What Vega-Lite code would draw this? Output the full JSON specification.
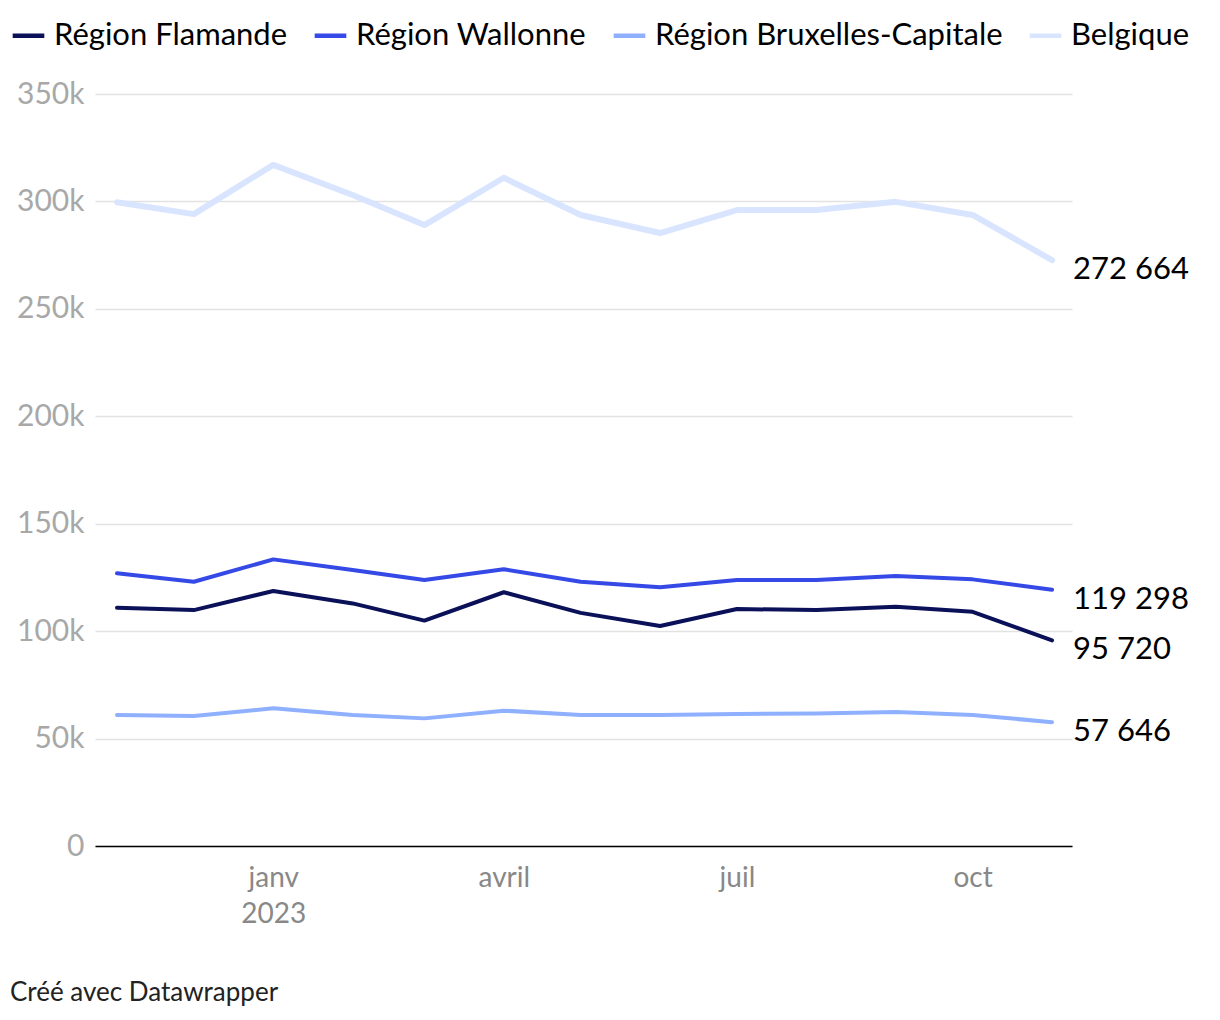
{
  "$schema": "https://vega.github.io/schema/vega-lite/v6.json",
  "width": 977,
  "height": 752,
  "padding": {"left": 10, "top": 17, "right": 10, "bottom": 10},
  "background": "#ffffff",
  "title": {"text": "Créé avec Datawrapper", "orient": "bottom", "anchor": "start", "frame": "bounds", "fontSize": 26, "fontWeight": "normal", "color": "#222222", "offset": 52},
  "data": {
    "format": {"parse": {"date": "utc:'%Y-%m-%d'"}},
    "values": [
      {"date": "2022-11-01", "region": "Région Flamande", "value": 110900},
      {"date": "2022-12-01", "region": "Région Flamande", "value": 109800},
      {"date": "2023-01-01", "region": "Région Flamande", "value": 118700},
      {"date": "2023-02-01", "region": "Région Flamande", "value": 112900},
      {"date": "2023-03-01", "region": "Région Flamande", "value": 104900},
      {"date": "2023-04-01", "region": "Région Flamande", "value": 118100},
      {"date": "2023-05-01", "region": "Région Flamande", "value": 108500},
      {"date": "2023-06-01", "region": "Région Flamande", "value": 102400},
      {"date": "2023-07-01", "region": "Région Flamande", "value": 110300},
      {"date": "2023-08-01", "region": "Région Flamande", "value": 109800},
      {"date": "2023-09-01", "region": "Région Flamande", "value": 111400},
      {"date": "2023-10-01", "region": "Région Flamande", "value": 109000},
      {"date": "2023-11-01", "region": "Région Flamande", "value": 95720},
      {"date": "2022-11-01", "region": "Région Wallonne", "value": 126900},
      {"date": "2022-12-01", "region": "Région Wallonne", "value": 123000},
      {"date": "2023-01-01", "region": "Région Wallonne", "value": 133400},
      {"date": "2023-02-01", "region": "Région Wallonne", "value": 128500},
      {"date": "2023-03-01", "region": "Région Wallonne", "value": 123800},
      {"date": "2023-04-01", "region": "Région Wallonne", "value": 128800},
      {"date": "2023-05-01", "region": "Région Wallonne", "value": 123000},
      {"date": "2023-06-01", "region": "Région Wallonne", "value": 120400},
      {"date": "2023-07-01", "region": "Région Wallonne", "value": 123800},
      {"date": "2023-08-01", "region": "Région Wallonne", "value": 123800},
      {"date": "2023-09-01", "region": "Région Wallonne", "value": 125700},
      {"date": "2023-10-01", "region": "Région Wallonne", "value": 124100},
      {"date": "2023-11-01", "region": "Région Wallonne", "value": 119298},
      {"date": "2022-11-01", "region": "Région Bruxelles-Capitale", "value": 61000},
      {"date": "2022-12-01", "region": "Région Bruxelles-Capitale", "value": 60500},
      {"date": "2023-01-01", "region": "Région Bruxelles-Capitale", "value": 64100},
      {"date": "2023-02-01", "region": "Région Bruxelles-Capitale", "value": 61000},
      {"date": "2023-03-01", "region": "Région Bruxelles-Capitale", "value": 59400},
      {"date": "2023-04-01", "region": "Région Bruxelles-Capitale", "value": 63000},
      {"date": "2023-05-01", "region": "Région Bruxelles-Capitale", "value": 61000},
      {"date": "2023-06-01", "region": "Région Bruxelles-Capitale", "value": 61000},
      {"date": "2023-07-01", "region": "Région Bruxelles-Capitale", "value": 61400},
      {"date": "2023-08-01", "region": "Région Bruxelles-Capitale", "value": 61700},
      {"date": "2023-09-01", "region": "Région Bruxelles-Capitale", "value": 62400},
      {"date": "2023-10-01", "region": "Région Bruxelles-Capitale", "value": 61000},
      {"date": "2023-11-01", "region": "Région Bruxelles-Capitale", "value": 57646},
      {"date": "2022-11-01", "region": "Belgique", "value": 299600},
      {"date": "2022-12-01", "region": "Belgique", "value": 294100},
      {"date": "2023-01-01", "region": "Belgique", "value": 317000},
      {"date": "2023-02-01", "region": "Belgique", "value": 303000},
      {"date": "2023-03-01", "region": "Belgique", "value": 289000},
      {"date": "2023-04-01", "region": "Belgique", "value": 311000},
      {"date": "2023-05-01", "region": "Belgique", "value": 293700},
      {"date": "2023-06-01", "region": "Belgique", "value": 285300},
      {"date": "2023-07-01", "region": "Belgique", "value": 296000},
      {"date": "2023-08-01", "region": "Belgique", "value": 296000},
      {"date": "2023-09-01", "region": "Belgique", "value": 299800},
      {"date": "2023-10-01", "region": "Belgique", "value": 293700},
      {"date": "2023-11-01", "region": "Belgique", "value": 272664}
    ]
  },
  "encoding": {
    "x": {
      "field": "date",
      "type": "temporal",
      "title": null,
      "scale": {
        "type": "utc",
        "domain": [
          {"year": 2022, "month": 10, "date": 23, "hours": 10, "utc": true},
          {"year": 2023, "month": 11, "date": 8, "hours": 19, "utc": true}
        ]
      },
      "axis": {
        "values": [
          {"year": 2023, "month": 1, "date": 1, "utc": true},
          {"year": 2023, "month": 4, "date": 1, "utc": true},
          {"year": 2023, "month": 7, "date": 1, "utc": true},
          {"year": 2023, "month": 10, "date": 1, "utc": true}
        ],
        "labelExpr": "utcmonth(datum.value) == 0 ? ['janv', '2023'] : utcmonth(datum.value) == 3 ? 'avril' : utcmonth(datum.value) == 6 ? 'juil' : 'oct'",
        "grid": false,
        "ticks": false,
        "domain": true,
        "domainColor": "#000000",
        "domainWidth": 1.5,
        "labelColor": "#888888",
        "labelFontSize": 28,
        "labelLineHeight": 36,
        "labelPadding": 32,
        "labelBaseline": "middle"
      }
    },
    "y": {
      "field": "value",
      "type": "quantitative",
      "title": null,
      "scale": {"domain": [0, 350000], "nice": false, "zero": true},
      "axis": {
        "values": [0, 50000, 100000, 150000, 200000, 250000, 300000, 350000],
        "labelExpr": "datum.value == 0 ? '0' : format(datum.value / 1000, 'd') + 'k'",
        "grid": true,
        "gridColor": "#e2e2e2",
        "gridWidth": 1.5,
        "domain": false,
        "ticks": false,
        "labelColor": "#a8a8a8",
        "labelFontSize": 30,
        "labelPadding": 11,
        "labelBaseline": "middle",
        "minExtent": 85,
        "maxExtent": 85
      }
    },
    "color": {
      "field": "region",
      "type": "nominal",
      "scale": {
        "domain": ["Région Flamande", "Région Wallonne", "Région Bruxelles-Capitale", "Belgique"],
        "range": ["#0a1158", "#3549e6", "#8fb0ff", "#d9e5ff"]
      },
      "legend": {
        "orient": "none",
        "legendX": -85,
        "legendY": -77,
        "direction": "horizontal",
        "title": null,
        "symbolType": "stroke",
        "symbolSize": 1000,
        "symbolStrokeWidth": 4.5,
        "labelFontSize": 31,
        "labelLimit": 0,
        "labelColor": "#000000",
        "labelOffset": 7,
        "columnPadding": 17
      }
    }
  },
  "layer": [
    {
      "transform": [{"filter": "datum.region == 'Belgique'"}],
      "mark": {"type": "line", "strokeCap": "round", "strokeJoin": "round", "strokeWidth": 6},
      "encoding": {
        "order": {"field": "date", "type": "temporal"}
      }
    },
    {
      "transform": [{"filter": "datum.region != 'Belgique'"}],
      "mark": {"type": "line", "strokeCap": "round", "strokeJoin": "round", "strokeWidth": 4},
      "encoding": {
        "order": {"field": "date", "type": "temporal"}
      }
    },
    {
      "transform": [{"filter": "utcyear(datum.date) == 2023 && utcmonth(datum.date) == 10"}],
      "mark": {"type": "text", "align": "left", "baseline": "middle", "dx": 21, "dy": 10, "fontSize": 31, "color": "#000000"},
      "encoding": {
        "text": {"field": "value", "type": "quantitative", "format": ",d"},
        "color": {"value": "#000000"}
      }
    }
  ],
  "config": {
    "font": "Lato",
    "view": {"stroke": null},
    "locale": {"number": {"decimal": ",", "thousands": " ", "grouping": [3], "currency": ["", " €"]}}
  }
}
